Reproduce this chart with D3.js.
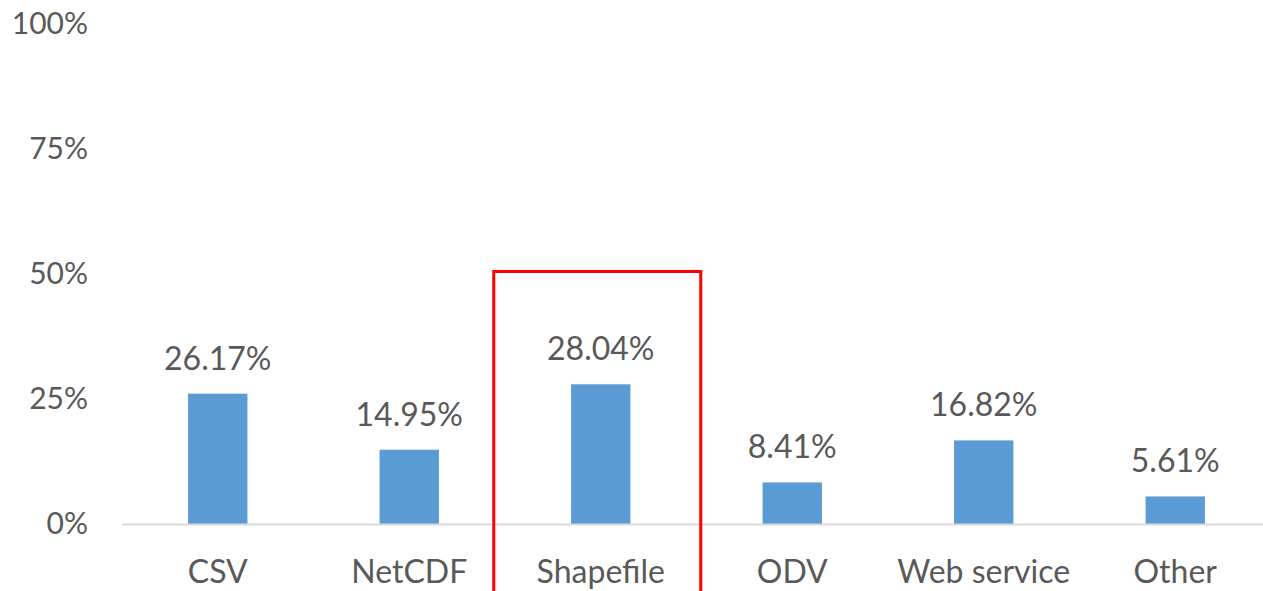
<!DOCTYPE html>
<html>
    <head>
        <script src="https://d3js.org/d3.v7.min.js"></script>
        <style>
            body { margin: 0; background: #fff; }
            text { font-family: Lato, "Open Sans", sans-serif; fill: #595959; }
        </style>
    </head>
    <body>
        <div id="vizBody"></div>
    </body>
    <script>
        //chart data
        let categories = ["CSV", "NetCDF", "Shapefile", "ODV", "Web service", "Other"];
        let shares = [26.17, 14.95, 28.04, 8.41, 16.82, 5.61];
        let yTicks = [0, 25, 50, 75, 100];
        let highlighted = "Shapefile";

        let maxWidth = 1263,
            maxHeight = 591;

        let svg = d3.select("#vizBody")
                    .append("svg")
                        .attr("width", maxWidth)
                        .attr("height", maxHeight);

        //x scale (bands over the plot width)
        let xScale = d3.scaleBand()
                       .domain(categories)
                       .range([122, 1271])
                       .paddingInner(0.69)
                       .paddingOuter(0.345);

        //y scale
        let yScale = d3.scaleLinear()
                       .domain([0, 100])
                       .range([524.5, 24.5]);

        //y tick labels (no axis line)
        svg.append("g")
           .selectAll("text")
           .data(yTicks)
           .join("text")
               .attr("x", 88)
               .attr("y", d => yScale(d) - 1.5)
               .attr("dy", "0.35em")
               .attr("text-anchor", "end")
               .style("font-size", "30px")
               .text(d => d + "%");

        //bars
        svg.append("g")
           .selectAll("rect")
           .data(shares)
           .join("rect")
               .attr("x", (d, i) => xScale(categories[i]))
               .attr("y", d => yScale(d))
               .attr("width", xScale.bandwidth())
               .attr("height", d => yScale(0) - yScale(d))
               .style("fill", "#5b9bd5");

        //baseline
        svg.append("line")
           .attr("x1", 122)
           .attr("x2", maxWidth)
           .attr("y1", yScale(0))
           .attr("y2", yScale(0))
           .style("stroke", "#d9d9d9")
           .style("stroke-width", 2);

        //value labels
        svg.append("g")
           .selectAll("text")
           .data(shares)
           .join("text")
               .attr("x", (d, i) => xScale(categories[i]) + xScale.bandwidth() / 2)
               .attr("y", d => yScale(d) - 24)
               .attr("text-anchor", "middle")
               .style("font-size", "32px")
               .text(d => d.toFixed(2) + "%");

        //category labels
        svg.append("g")
           .selectAll("text")
           .data(categories)
           .join("text")
               .attr("x", d => xScale(d) + xScale.bandwidth() / 2)
               .attr("y", yScale(0) + 58)
               .attr("text-anchor", "middle")
               .style("font-size", "32px")
               .text(d => d);

        //red highlight box round one category
        let hx = xScale(highlighted) + xScale.bandwidth() / 2;
        svg.append("rect")
           .attr("x", hx - 107)
           .attr("y", yScale(50) - 3)
           .attr("width", 207)
           .attr("height", 400)
           .style("fill", "none")
           .style("stroke", "#ff0000")
           .style("stroke-width", 3);
    </script>
</html>
